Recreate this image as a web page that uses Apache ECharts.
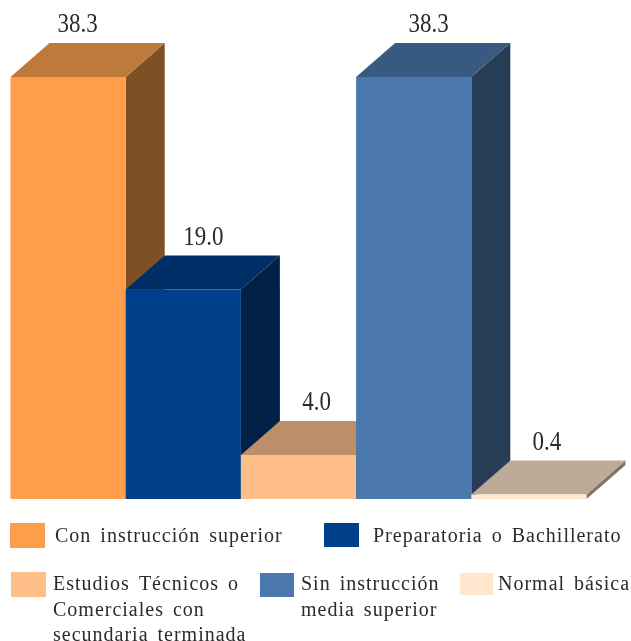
<!DOCTYPE html>
<html>
<head>
<meta charset="utf-8">
<style>html,body{margin:0;padding:0;background:#fff}#c{width:631px;height:641px}</style>
<script src="https://cdn.jsdelivr.net/npm/echarts@6/dist/echarts.min.js"></script>
</head>
<body>
<div id="c"></div>
<script>
var categories = ['Con instrucción superior','Preparatoria o Bachillerato','Estudios Técnicos o Comerciales con secundaria terminada','Sin instrucción media superior','Normal básica'];
var values = [38.3, 19.0, 4.0, 38.3, 0.4];
var frontColors = ['#FF9E4A','#003F8A','#FFBF88','#4C79AD','#FFE6CC'];
var topColors = ['#BD7A3A','#002E66','#BD8F68','#385A80','#BDAA97'];
var sideColors = ['#7D5125','#002045','#7D5E43','#273C55','#7F7468'];
var labelShift = [9.5, 20, 18, 15, 18];
var legendLines = [
  ['Con instrucción superior'],
  ['Preparatoria o Bachillerato'],
  ['Estudios Técnicos o','Comerciales con','secundaria terminada'],
  ['Sin instrucción','media superior'],
  ['Normal básica']
];
var legendBoxes = [[10,523,35,25],[324,523,35,24],[11,572,35,25],[260,573,34,24],[460,573,33,22]];
var legendText = [[55,537],[373,537],[53,585],[301,585],[498,585]];
var DX = 39, DY = 34, FONT = '"Liberation Serif","Times New Roman",serif';

// The legend text in the source is typeset with open tracking: apply it to the 20px text only.
var nativeFillText = CanvasRenderingContext2D.prototype.fillText;
CanvasRenderingContext2D.prototype.fillText = function () {
  var tracked = /(^|\s)20px/.test(this.font);
  this.letterSpacing = tracked ? '1px' : '0px';
  this.wordSpacing = tracked ? '3px' : '0px';
  return nativeFillText.apply(this, arguments);
};

function renderBar(params, api) {
  var i = api.value(0), v = api.value(1);
  var p = api.coord([i, v]), b = api.coord([i, 0]);
  var w = api.size([1, 0])[0];
  var l = p[0] - w / 2, r = p[0] + w / 2, t = p[1], bot = b[1];
  function poly(pts, c) { return {type:'polygon', shape:{points:pts}, style:{fill:c}}; }
  return {type:'group', children:[
    poly([[r,t],[r+DX,t-DY],[r+DX,bot-DY],[r,bot]], sideColors[i]),
    poly([[l,t],[l+DX,t-DY],[r+DX,t-DY],[r,t]], topColors[i]),
    {type:'rect', shape:{x:l,y:t,width:w,height:bot-t}, style:{fill:frontColors[i]}},
    {type:'text', x:p[0]+labelShift[i], y:t-DY-4, scaleY:1.18,
      style:{text:v.toFixed(1), font:'23px '+FONT, fill:'#2b2b2b', textAlign:'center', textVerticalAlign:'bottom'}}
  ]};
}

var graphics = [];
categories.forEach(function(c, i){
  var b = legendBoxes[i];
  graphics.push({type:'rect', left:b[0], top:b[1], shape:{width:b[2],height:b[3]}, style:{fill:frontColors[i]}});
  legendLines[i].forEach(function(line, k){
    graphics.push({type:'text', x:legendText[i][0], y:legendText[i][1]+k*25.5, style:{text:line, font:'20px '+FONT, fill:'#2b2b2b', textVerticalAlign:'middle', textAlign:'left'}});
  });
});

var chart = echarts.init(document.getElementById('c'), null, {renderer:'canvas'});
chart.setOption({
  animation:false,
  backgroundColor:'#fff',
  grid:{left:10.5, width:576, top:58.2, height:440.8},
  xAxis:{type:'category', data:categories, show:false},
  yAxis:{type:'value', min:0, max:40, show:false},
  series:[{type:'custom', renderItem:renderBar, clip:false, encode:{x:0,y:1},
    data:values.map(function(v,i){return [i,v];})}],
  graphic:graphics
});
</script>
</body>
</html>
